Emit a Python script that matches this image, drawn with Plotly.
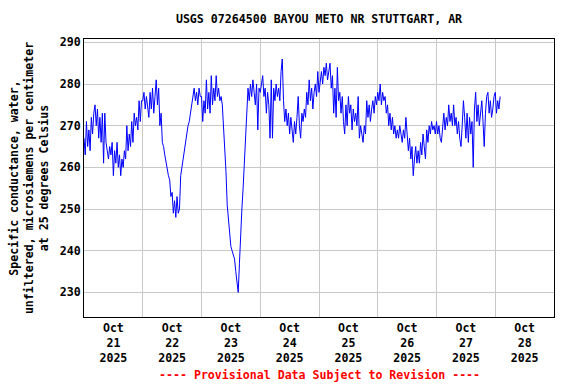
import pandas as pd
import plotly.graph_objects as go

# Specific conductance, 30-minute readings starting 2025-10-21 00:00
oct21 = [267, 263, 271, 265, 269, 264, 272, 268, 273, 275, 270, 274,
         267, 272, 266, 273, 261, 273, 266, 264, 262, 265, 263, 266,
         258, 264, 261, 266, 260, 263, 258, 262, 260, 264, 262, 270,
         264, 268, 265, 271, 266, 273, 270, 272, 269, 276, 271, 276]
oct22 = [276, 278, 274, 277, 275, 272, 278, 274, 279, 273, 277, 281,
         275, 279, 270, 273, 266, 265, 263, 261, 260, 258, 257, 253,
         254, 249, 252, 248, 253, 249, 250, 258, 260, 262, 265, 267,
         269, 270, 271, 273, 275, 276, 279, 276, 278, 275, 279, 277]
oct23 = [277, 271, 276, 273, 281, 274, 278, 273, 282, 275, 279, 276,
         282, 277, 279, 276, 277, 275, 270, 264, 259, 251, 247, 243,
         241, 240, 239, 238, 235, 233, 230, 237, 245, 250, 255, 261,
         265, 272, 279, 276, 280, 277, 281, 278, 275, 280, 269, 279]
oct24 = [278, 280, 282, 277, 279, 273, 278, 275, 267, 281, 267, 279,
         276, 280, 277, 279, 276, 283, 286, 276, 271, 274, 270, 273,
         268, 272, 269, 266, 271, 268, 272, 277, 270, 267, 273, 271,
         274, 272, 278, 275, 281, 276, 279, 274, 278, 280, 277, 283]
oct25 = [278, 281, 283, 280, 284, 282, 285, 281, 283, 285, 279, 282,
         273, 279, 272, 284, 276, 278, 273, 277, 271, 268, 275, 270,
         277, 273, 275, 269, 274, 271, 273, 270, 277, 267, 270, 268,
         266, 270, 268, 276, 272, 275, 271, 274, 276, 273, 277, 275]
oct26 = [278, 276, 280, 275, 278, 276, 277, 273, 275, 270, 273, 269,
         272, 268, 270, 267, 269, 267, 270, 268, 266, 269, 267, 272,
         268, 264, 267, 262, 265, 258, 262, 265, 261, 264, 261, 266,
         263, 268, 265, 262, 269, 266, 270, 268, 271, 269, 270, 268]
oct27 = [271, 268, 270, 267, 266, 271, 273, 269, 272, 270, 275, 271,
         273, 270, 275, 270, 272, 268, 271, 267, 265, 270, 276, 272,
         267, 273, 266, 272, 268, 271, 260, 274, 278, 271, 275, 270,
         273, 276, 271, 265, 273, 277, 278, 273, 276, 272, 274, 277]
oct28 = [278, 273, 276, 274, 277]

values = oct21 + oct22 + oct23 + oct24 + oct25 + oct26 + oct27 + oct28
times = pd.date_range("2025-10-21 00:00", periods=len(values), freq="30min")

title_text = "USGS 07264500 BAYOU METO NR STUTTGART, AR"
y_title = ("Specific conductance, water,<br>"
           "unfiltered, microsiemens per centimeter<br>"
           "at 25 degrees Celsius")
footer_text = "---- Provisional Data Subject to Revision ----"
y_ticks = [230, 240, 250, 260, 270, 280, 290]

FONT = "DejaVu Sans Mono"

fig = go.Figure()
fig.add_trace(go.Scatter(
    x=times, y=values, mode="lines",
    line=dict(color="#0000ff", width=1),
    hoverinfo="x+y", showlegend=False,
))

fig.update_layout(
    width=576, height=384,
    margin=dict(l=84, r=22, t=39, b=67),
    paper_bgcolor="white", plot_bgcolor="white",
    title=dict(text=title_text, x=(84 + 554) / 2 / 576, xanchor="center",
               y=1 - 19 / 384, yanchor="middle",
               font=dict(family=FONT, size=11.6, color="black", weight="bold")),
    annotations=[dict(text=footer_text, xref="paper", yref="paper",
                      x=0.5, y=-(375 - 316.6) / (316.6 - 39), xanchor="center",
                      yanchor="middle", showarrow=False,
                      font=dict(family=FONT, size=11.6, color="red", weight="bold"))],
)

fig.update_xaxes(
    type="date",
    range=["2025-10-21 00:00", "2025-10-29 00:00"],
    tick0="2025-10-21", dtick=86400000,
    ticklabelmode="period", tickformat="%b<br>%d<br>%Y",
    ticks="", showgrid=True, gridcolor="#c8c8c8", gridwidth=1,
    showline=True, mirror=True, linecolor="black", linewidth=1,
    tickfont=dict(family=FONT, size=11.6, color="black", weight="bold"),
    zeroline=False,
)
fig.update_yaxes(
    range=[224.1, 290.8],
    tickvals=y_ticks, ticks="",
    showgrid=True, gridcolor="#c8c8c8", gridwidth=1,
    showline=True, mirror=True, linecolor="black", linewidth=1,
    tickfont=dict(family=FONT, size=11.6, color="black", weight="bold"),
    title=dict(text=y_title, standoff=8,
               font=dict(family=FONT, size=11.6, color="black", weight="bold")),
    zeroline=False,
)

fig.write_html("out.html",
               config={"displayModeBar": False},
               post_script="document.body.style.margin='0';document.body.style.padding='0';")
